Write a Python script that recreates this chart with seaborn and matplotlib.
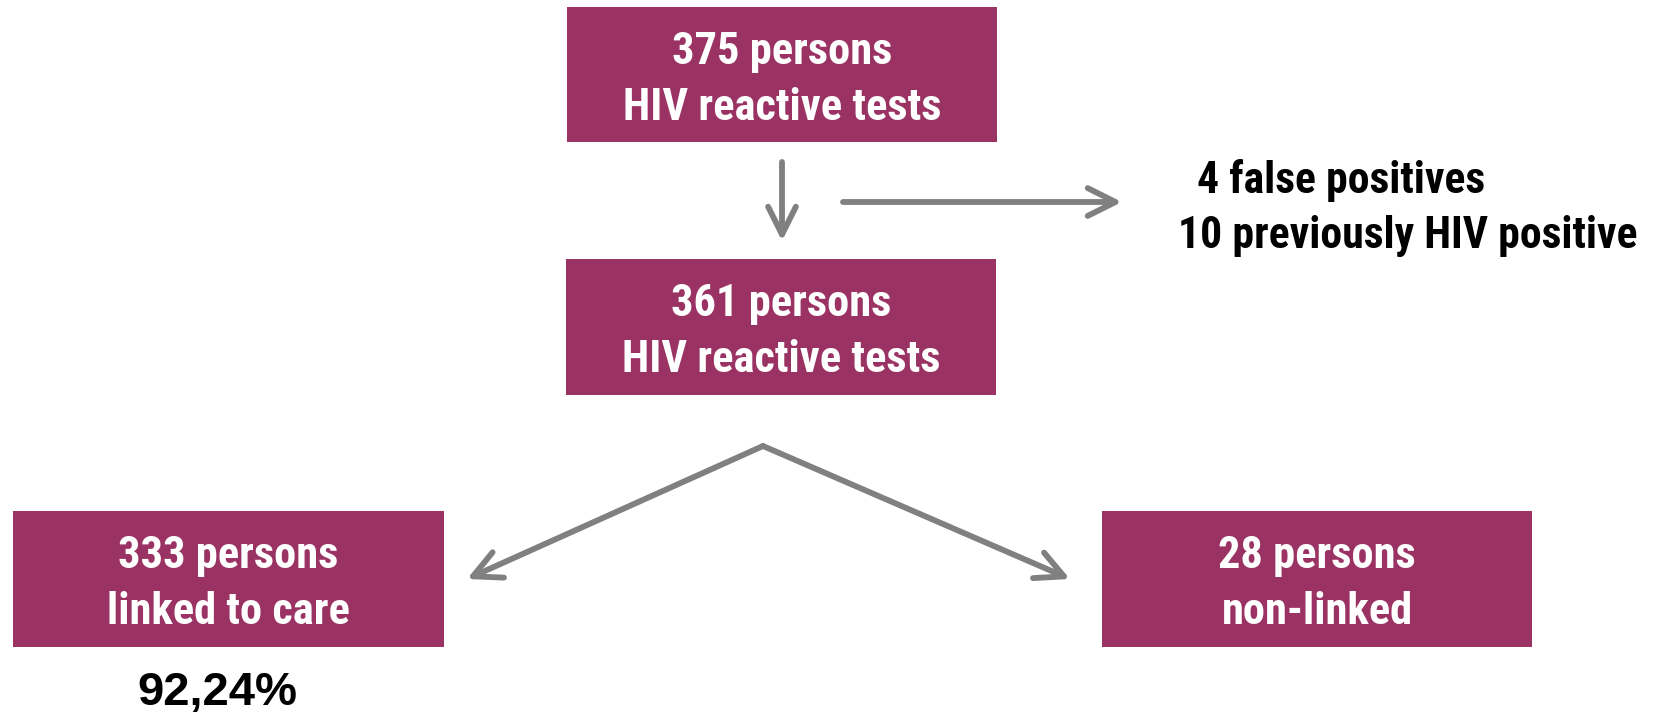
import matplotlib
matplotlib.use("Agg")
import matplotlib.pyplot as plt
import seaborn as sns
from matplotlib.patches import Rectangle

# flowchart content
box_counts = ["375 persons", "361 persons", "333 persons", "28 persons"]
box_desc = ["HIV reactive tests", "HIV reactive tests", "linked to care", "non-linked"]
excluded = ["4 false positives", "10 previously HIV positive"]
linked_share = "92,24%"

sns.set_theme(style="white")
plt.rcParams['font.family'] = ['Roboto Condensed', 'DejaVu Sans']

fig = plt.figure(figsize=(16.68, 7.15), dpi=100)
ax = fig.add_axes([0, 0, 1, 1])
# work in pixel coordinates, origin top-left
ax.set_xlim(0, 1668)
ax.set_ylim(715, 0)
ax.axis("off")

fill = "#9a3363"
grey = "#808080"

# box layout (x0, y0, x1, y1)
boxes = [(567, 7, 997, 142), (566, 259, 996, 395), (13, 511, 444, 647), (1102, 511, 1532, 647)]
for (x0, y0, x1, y1), c, d in zip(boxes, box_counts, box_desc):
    ax.add_patch(Rectangle((x0, y0), x1 - x0, y1 - y0, facecolor=fill, edgecolor="none"))
    xc = (x0 + x1) / 2
    ax.text(xc, y0 + 57, c, color="white", fontsize=32, fontweight="bold",
            ha="center", va="baseline")
    ax.text(xc, y0 + 113, d, color="white", fontsize=32, fontweight="bold",
            ha="center", va="baseline")

arrow_kw = dict(arrowstyle="->,head_length=2.0,head_width=1.0", mutation_scale=10,
                color=grey, lw=4.2, capstyle="round", joinstyle="round", shrinkA=0, shrinkB=0)
arrows = [((782, 162), (782, 241)), ((843, 202), (1122, 202)),
          ((763, 446), (467, 579)), ((763, 446), (1070, 579))]
for start, end in arrows:
    ax.annotate("", xy=end, xytext=start, arrowprops=arrow_kw)

ax.text(1197, 193, excluded[0], color="black", fontsize=31.5, fontweight="bold",
        ha="left", va="baseline")
ax.text(1178, 248, excluded[1], color="black", fontsize=31.5, fontweight="bold",
        ha="left", va="baseline")
ax.text(217, 705, linked_share, color="black", fontsize=34, fontweight="bold",
        ha="center", va="baseline", family=["Liberation Sans", "DejaVu Sans"])

fig.savefig("out.png", dpi=100, facecolor="white")
